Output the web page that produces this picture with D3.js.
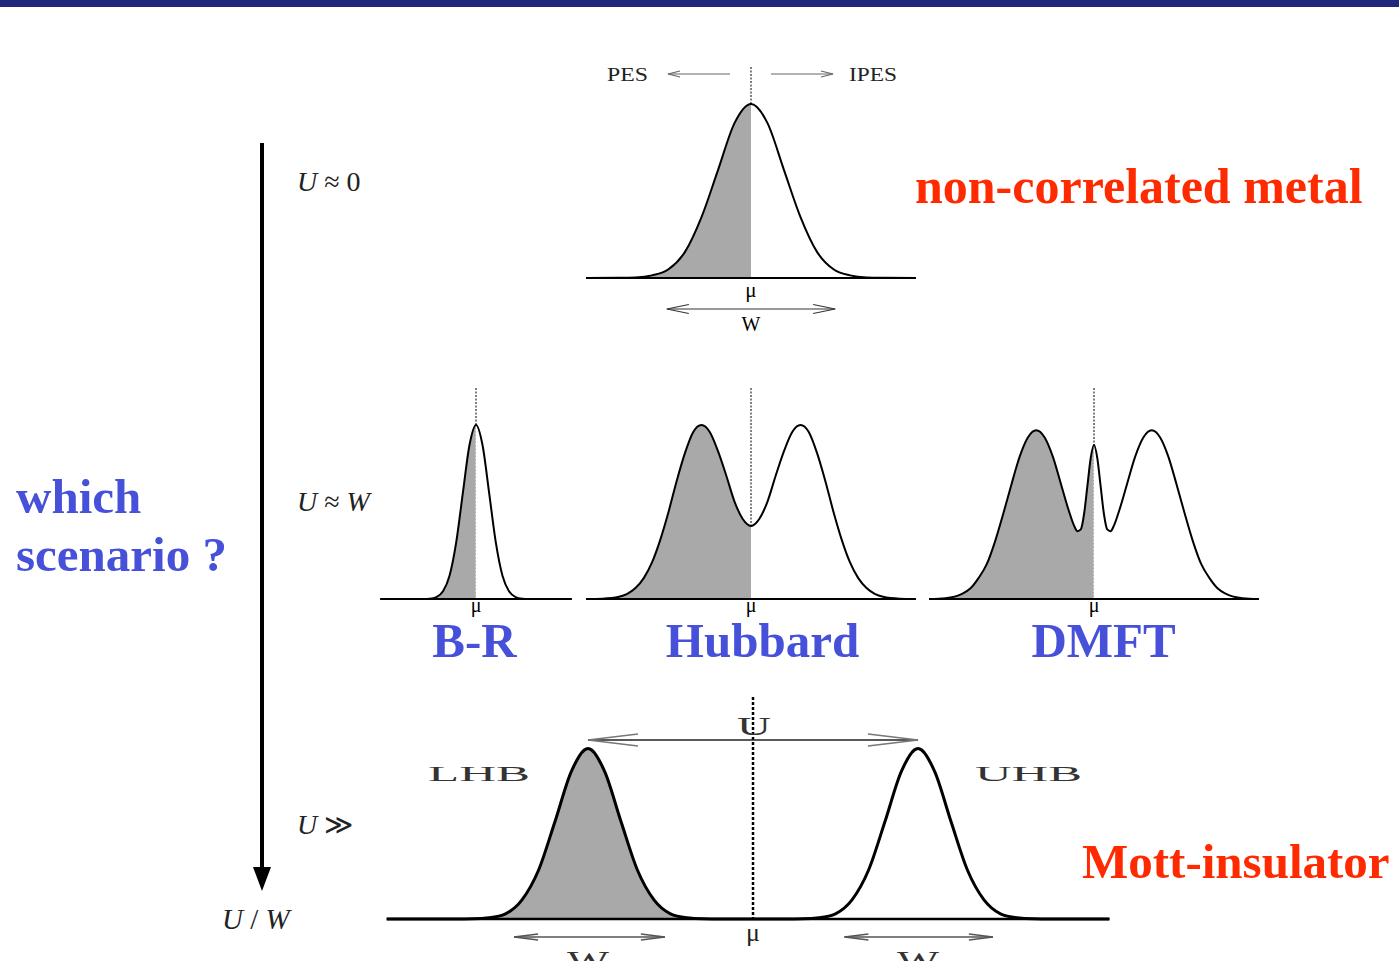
<!DOCTYPE html>
<html>
<head>
<meta charset="utf-8">
<script src="https://cdn.jsdelivr.net/npm/d3@7"></script>
<style>
  html, body { margin: 0; padding: 0; background: #fff; overflow: hidden; }
  svg { display: block; }
  text { font-family: "Liberation Serif", "DejaVu Serif", serif; }
</style>
</head>
<body>
<svg id="chart" width="1399" height="961"></svg>
<script>
// spectral functions A(w): [energy relative to mu (band units), weight (tallest peak ~ 1)]
const metalDOS = [[-5,0],[-4,0.001],[-3.5,0.003],[-3,0.015],[-2.5,0.05],[-2,0.15],[-1.5,0.35],[-1,0.62],[-0.5,0.89],[0,1],
  [0.5,0.89],[1,0.62],[1.5,0.35],[2,0.15],[2.5,0.05],[3,0.015],[3.5,0.003],[4,0.001],[5,0]];

const brinkmanRiceDOS = [[-2.9,0],[-1.6,0],[-1.4,0.002],[-1.2,0.011],[-1,0.044],[-0.8,0.135],[-0.6,0.325],[-0.4,0.607],[-0.2,0.882],[0,1],
  [0.2,0.882],[0.4,0.607],[0.6,0.325],[0.8,0.135],[1,0.044],[1.2,0.011],[1.4,0.002],[1.6,0],[2.9,0]];

const hubbardDOS = [[-5,0],[-4.5,0.002],[-4,0.013],[-3.75,0.03],[-3.5,0.063],[-3.25,0.12],[-3,0.21],[-2.75,0.34],[-2.5,0.5],[-2.25,0.68],
  [-2,0.84],[-1.75,0.96],[-1.5,1],[-1.25,0.96],[-1,0.85],[-0.75,0.71],[-0.5,0.56],[-0.25,0.46],[0,0.42],
  [0.25,0.46],[0.5,0.56],[0.75,0.71],[1,0.85],[1.25,0.96],[1.5,1],[1.75,0.96],[2,0.84],[2.25,0.68],[2.5,0.5],
  [2.75,0.34],[3,0.21],[3.25,0.12],[3.5,0.063],[3.75,0.03],[4,0.013],[4.5,0.002],[5,0]];

const dmftDOS = [[-5,0],[-4.5,0.005],[-4,0.03],[-3.75,0.06],[-3.5,0.12],[-3.25,0.2],[-3,0.33],[-2.75,0.49],[-2.5,0.66],[-2.25,0.82],
  [-2,0.93],[-1.75,0.97],[-1.5,0.93],[-1.25,0.82],[-1,0.66],[-0.75,0.5],[-0.6,0.42],[-0.5,0.39],[-0.4,0.4],[-0.3,0.49],
  [-0.2,0.65],[-0.1,0.81],[0,0.885],[0.1,0.81],[0.2,0.65],[0.3,0.49],[0.4,0.4],[0.5,0.39],[0.6,0.42],[0.75,0.5],
  [1,0.66],[1.25,0.82],[1.5,0.93],[1.75,0.97],[2,0.93],[2.25,0.82],[2.5,0.66],[2.75,0.49],[3,0.33],[3.25,0.2],
  [3.5,0.12],[3.75,0.06],[4,0.03],[4.5,0.005],[5,0]];

const mottDOS = [[-11.1,0],[-9,0],[-8.5,0.001],[-8,0.007],[-7.5,0.03],[-7,0.11],[-6.5,0.28],[-6,0.56],[-5.5,0.85],[-5,0.98],
  [-4.5,0.85],[-4,0.56],[-3.5,0.28],[-3,0.11],[-2.5,0.03],[-2,0.007],[-1.5,0.001],[-1,0],[0,0],[1,0],
  [1.5,0.001],[2,0.007],[2.5,0.03],[3,0.11],[3.5,0.28],[4,0.56],[4.5,0.85],[5,0.98],[5.5,0.85],[6,0.56],
  [6.5,0.28],[7,0.11],[7.5,0.03],[8,0.007],[8.5,0.001],[9,0],[10.8,0]];

const scenarioNames = ["B-R", "Hubbard", "DMFT"];
const regimeLabels = ["U \u2248 0", "U \u2248 W", "U \u226B"];

const svg = d3.select("#chart");
const red = "#ff2a00";
const blue = "#4650d8";
const grey = "#a9a9a9";
const unit = 33;     // px per band unit
const ampPx = 174;   // px for weight 1

svg.append("rect").attr("x", 0).attr("y", 0).attr("width", 1399).attr("height", 7).attr("fill", "#20277a");

const panels = [
  { id: "metal", dos: metalDOS, center: 751, base: 278, lo: -5, hi: 5, lw: 2, guideTop: 67 },
  { id: "br", dos: brinkmanRiceDOS, center: 476, base: 599, lo: -2.9, hi: 2.9, lw: 2, guideTop: 388, whiteMu: true },
  { id: "hub", dos: hubbardDOS, center: 751, base: 599, lo: -5, hi: 5, lw: 2, guideTop: 388 },
  { id: "dmft", dos: dmftDOS, center: 1094, base: 599, lo: -5, hi: 5, lw: 2, guideTop: 388, whiteMu: true },
  { id: "mott", dos: mottDOS, center: 753, base: 919, lo: -11.1, hi: 10.8, lw: 3, guideTop: 697, guideW: 2.5 }
];

const defs = svg.append("defs");

panels.forEach(p => {
  const x = d3.scaleLinear().domain([0, 1]).range([p.center, p.center + unit]);
  const y = d3.scaleLinear().domain([0, 1]).range([p.base, p.base - ampPx]);
  p.x = x; p.y = y;
  const g = svg.append("g").attr("class", "panel " + p.id);

  // occupied states (w < mu) are shaded
  defs.append("clipPath").attr("id", "occ-" + p.id)
    .append("rect")
    .attr("x", x(p.lo) - 5).attr("y", p.base - ampPx - 20)
    .attr("width", x(0) - x(p.lo) + 5).attr("height", ampPx + 20);

  const area = d3.area().x(d => x(d[0])).y0(y(0)).y1(d => y(d[1])).curve(d3.curveMonotoneX);
  const line = d3.line().x(d => x(d[0])).y(d => y(d[1])).curve(d3.curveMonotoneX);

  g.append("path").datum(p.dos).attr("d", area).attr("fill", grey).attr("clip-path", `url(#occ-${p.id})`);

  const a0 = p.dos.find(d => d[0] === 0)[1];
  if (p.whiteMu) {
    g.append("line").attr("x1", x(0)).attr("x2", x(0)).attr("y1", y(0)).attr("y2", y(a0))
      .attr("stroke", "#fff").attr("stroke-width", 1).attr("stroke-dasharray", "2,1.5");
  }

  g.append("path").datum(p.dos).attr("d", line).attr("fill", "none")
    .attr("stroke", "#000").attr("stroke-width", p.lw).attr("stroke-linejoin", "round");

  g.append("line").attr("x1", x(p.lo)).attr("x2", x(p.hi)).attr("y1", y(0)).attr("y2", y(0))
    .attr("stroke", "#000").attr("stroke-width", p.lw === 3 ? 2.5 : 2);

  g.append("line").attr("x1", x(0)).attr("x2", x(0)).attr("y1", p.guideTop).attr("y2", y(a0))
    .attr("stroke", "#000").attr("stroke-width", p.guideW || 1)
    .attr("stroke-dasharray", p.guideW ? "3,2" : "2,1.5");
});

// open arrow: line from (x1,y1) to (x2,y2) with head at the end
function arrow(x1, y1, x2, y2, o) {
  const g = svg.append("g");
  g.append("line").attr("x1", x1).attr("y1", y1).attr("x2", x2).attr("y2", y2)
    .attr("stroke", o.color).attr("stroke-width", o.width);
  const heads = o.both ? [[x2, x1], [x1, x2]] : [[x1, x2]];
  heads.forEach(([from, tip]) => {
    const dir = tip > from ? -1 : 1;
    g.append("path")
      .attr("d", `M${tip + dir * o.len},${y2 - o.half}L${tip},${y2}L${tip + dir * o.len},${y2 + o.half}`)
      .attr("fill", "none").attr("stroke", o.headColor || o.color).attr("stroke-width", o.width);
  });
}

// plain label, optionally stretched to a given width
function label(xp, yp, s, size, o = {}) {
  const t = svg.append("text").attr("x", xp).attr("y", yp).attr("font-size", size)
    .attr("fill", o.color || "#222").attr("text-anchor", o.anchor || "start").text(s);
  if (o.len) t.attr("textLength", o.len).attr("lengthAdjust", "spacingAndGlyphs");
  return t;
}

const [metalP, brP, hubP, dmftP, mottP] = panels;

// top panel annotations
arrow(730, 74, 668, 74, { color: "#666", width: 1.2, len: 12, half: 3 });
arrow(771, 74, 833, 74, { color: "#666", width: 1.2, len: 12, half: 3 });
label(607, 81, "PES", 19, { len: 41 });
label(849, 81, "IPES", 19, { len: 48 });
arrow(metalP.x(-2.55), 309, metalP.x(2.55), 309, { color: "#333", width: 1.2, len: 22, half: 4.5, both: true });
label(metalP.x(0), 297, "\u03BC", 21, { anchor: "middle", color: "#000" });
label(metalP.x(0), 331, "W", 20, { anchor: "middle", color: "#000" });

// mu labels of the middle row
[brP, hubP, dmftP].forEach(p => label(p.x(0), 612, "\u03BC", 20, { anchor: "middle", color: "#000" }));

// bottom panel annotations
arrow(mottP.x(-5), 740, mottP.x(5), 740, { color: "#222", headColor: "#777", width: 1.5, len: 50, half: 6, both: true });
label(754, 735, "U", 26, { anchor: "middle", len: 34, color: "#333" });
label(428, 781, "LHB", 21, { len: 102, color: "#333" });
label(975, 781, "UHB", 21, { len: 107, color: "#333" });
arrow(mottP.x(-7.24), 937, mottP.x(-2.67), 937, { color: "#555", width: 1.5, len: 24, half: 3, both: true });
arrow(mottP.x(2.77), 937, mottP.x(7.27), 937, { color: "#555", width: 1.5, len: 24, half: 3, both: true });
label(mottP.x(0), 941, "\u03BC", 26, { anchor: "middle" });
[-5, 5].forEach(e => label(mottP.x(e), 970, "W", 28, { anchor: "middle", len: 42, color: "#333" }));

// U/W axis
svg.append("line").attr("x1", 262).attr("x2", 262).attr("y1", 143).attr("y2", 870)
  .attr("stroke", "#000").attr("stroke-width", 4);
svg.append("path").attr("d", "M253,867L271,867L262,891Z").attr("fill", "#000");

function mathLabel(xp, yp, size, parts) {
  const t = svg.append("text").attr("x", xp).attr("y", yp).attr("font-size", size).attr("fill", "#222");
  parts.forEach(([s, it]) => t.append("tspan").attr("font-style", it ? "italic" : "normal").text(s));
}
const regimeY = [191, 511, 834];
regimeLabels.forEach((lab, i) => {
  const bits = lab.split(" ");
  const parts = [[bits[0], true], [" " + bits[1] + (bits[2] ? " " : ""), false]];
  if (bits[2]) parts.push([bits[2], bits[2] === "W"]);
  mathLabel(297, regimeY[i], 28, parts);
});
mathLabel(222, 929, 29, [["U", true], [" / ", false], ["W", true]]);

// headline texts
function bold(xp, yp, s, color, anchor, size) {
  svg.append("text").attr("x", xp).attr("y", yp).attr("font-size", size || 49).attr("font-weight", "bold")
    .attr("fill", color).attr("text-anchor", anchor || "start").text(s);
}
bold(915, 203, "non-correlated metal", red, "start", 50);
bold(1082, 878, "Mott-insulator", red);
bold(16, 513, "which", blue);
bold(16, 571, "scenario ?", blue);
const nameX = [474.5, 762.5, 1103.5];
scenarioNames.forEach((n, i) => bold(nameX[i], 657, n, blue, "middle"));
</script>
</body>
</html>
